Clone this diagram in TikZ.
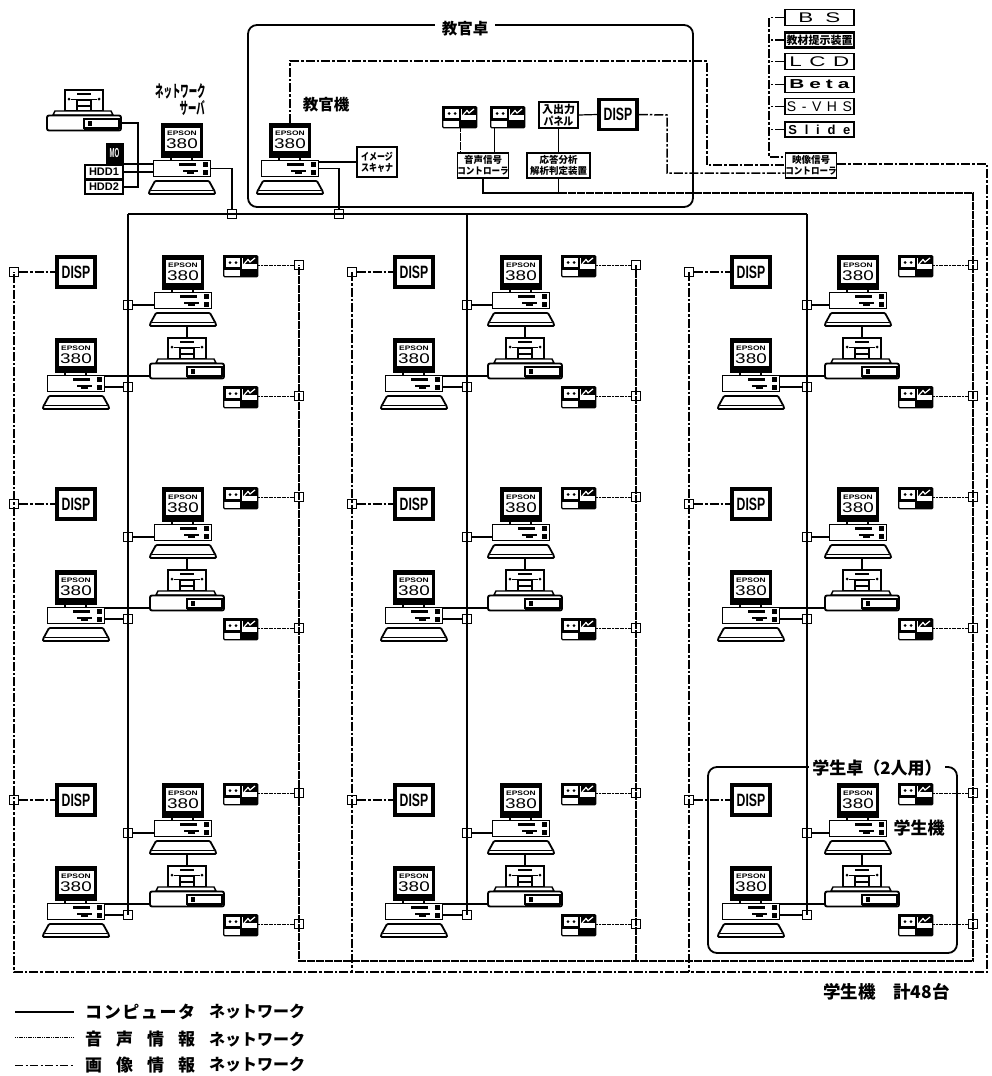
\documentclass[tikz,border=0pt]{standalone}
\usepackage{fontspec}
\usepackage{graphicx}
\setmainfont{Liberation Sans}
\newfontfamily\jpf{Noto Sans CJK JP}
\newcommand\fsz[2]{\fontsize{#1}{#2}\selectfont}
\newcommand\wide[2]{\makebox[#1][s]{#2}}
\newcommand\wl[1]{\scalebox{1.6}[1]{#1}}
\tikzset{
  compnet/.style={line width=1.6pt,draw=black},
  audnet/.style={line width=1.5pt,draw=black,dash pattern=on 4pt off 0.5pt},
  imgnet/.style={line width=1.5pt,draw=black,dash pattern=on 9pt off 2pt on 2.5pt off 2pt},
  thinaud/.style={line width=0.9pt,draw=black,dash pattern=on 1.2pt off 0.6pt},
  thinimg/.style={line width=0.9pt,draw=black,dash pattern=on 8pt off 2.5pt on 2pt off 2.5pt},
  jbox/.style={draw=black,line width=1.4pt,minimum size=9pt,inner sep=0pt},
  dispbox/.style={draw=black,line width=3.5pt,fill=white,minimum width=38pt,minimum height=30pt,inner sep=0pt,
    font=\fsz{17}{17}\bfseries},
  labbox/.style={draw=black,line width=1.5pt,fill=white,inner sep=0pt,align=center},
  selbox/.style={draw=black,line width=1.8pt,fill=white,inner sep=0pt,minimum width=69pt,anchor=west},
  hddbox/.style={draw=black,line width=1.5pt,fill=white,inner sep=0pt,minimum width=38pt,minimum height=14pt,
    font=\fsz{11}{11}\bfseries},
  frameline/.style={line width=1.8pt,draw=black,rounded corners=9pt},
  jptext/.style={inner sep=0pt,align=center,font=\jpf},
  pics/pcunit/.style={code={
    \fill[black] (0,0) rectangle (42,35);
    \fill[white] (3.5,5) rectangle (38.5,28);
    \node[inner sep=0pt,font=\fsz{6.5}{6.5}\bfseries] at (21,10.5) {\scalebox{1.3}[1]{EPSON}};
    \node[inner sep=0pt,font=\fsz{14}{14}] at (21,21) {\scalebox{1.35}[1]{380}};
    \draw[line width=1.3pt] (10,35) -- (10,38) (31,35) -- (31,38);
    \node[draw=black,line width=1.8pt,fill=white,minimum width=57pt,minimum height=16pt,inner sep=0pt] (-base) at (21,45.5) {};
    \fill[black] (18,40) rectangle (35,42.5);
    \fill[black] (22,46.5) rectangle (37,48.5);
    \fill[black] (26,48.5) rectangle (33,51);
    \fill[black] (42,39) rectangle (47,44);
    \fill[black] (42,47) rectangle (47,51.5);
    \draw[line width=1.8pt,fill=white,rounded corners=1pt] (-6,58) -- (48,58) -- (54,69) -- (54,71) -- (-12,71) -- (-12,69) -- cycle;
    \draw[line width=1.2pt] (-10,67.5) -- (52,67.5);
    \coordinate (-kb) at (25,71);
    \coordinate (-top) at (21,0);
  }},
  pics/printerunit/.style={code={
    \node[draw=black,line width=1.5pt,fill=white,minimum width=38pt,minimum height=21pt,inner sep=0pt] (-paper) at (37,-14.5) {};
    \fill[black] (30,-22.5) rectangle (44,-20.5);
    \draw[line width=1.3pt] (24,-15.5) -- (50,-15.5);
    \fill[black] (22,-16) circle (1.5pt) (52,-16) circle (1.5pt);
    \draw[line width=1.3pt] (30,-15) rectangle (44,-4);
    \fill[black] (30,-10.5) rectangle (44,-8.5);
    \draw[line width=1.4pt,fill=white] (8,-4) -- (64,-4) -- (66,0) -- (6,0) -- cycle;
    \node[draw=black,line width=1.9pt,fill=white,rounded corners=2pt,minimum width=74pt,minimum height=15pt,inner sep=0pt] (-body) at (37,8) {};
    \draw[line width=1.2pt] (37,4) rectangle (72,13);
    \fill[black] (41,6) rectangle (45,11);
    \fill[black] (37,12) rectangle (72,15);
    \coordinate (-port) at (0,13);
  }},
  pics/tapeunit/.style={code={
    \node[draw=black,line width=1.4pt,fill=white,rounded corners=1pt,minimum width=34pt,minimum height=21pt,inner sep=0pt,anchor=north west] (-box) at (0,0) {};
    \fill[black] (0,0) rectangle (34,2.5);
    \fill[black] (20,0) rectangle (34,9);
    \fill[black] (17,14) rectangle (34,21);
    \draw[white,line width=1.2pt] (21,9) -- (25,4.5) -- (27,7) -- (32,3);
    \draw[line width=1.3pt] (2,2) rectangle (18,13);
    \fill[black] (7,7.5) circle (1.5pt) (13,7.5) circle (1.5pt);
    \draw[black,line width=1pt] (0,14) -- (17,14);
  }},
}
\begin{document}
\begin{tikzpicture}[x=1pt,y=-1pt]
\useasboundingbox (0,0) rectangle (992,1076);

% ---------- frames
\draw[frameline] (248,25) rectangle (693,207);
\node[jptext,fill=white,inner xsep=7pt,inner ysep=3pt,font=\jpf\fsz{15.5}{15.5}\bfseries] (tdesk) at (465,29) {教官卓};
\draw[frameline] (708,767) rectangle (957,953);
\node[jptext,fill=white,inner xsep=3pt,inner ysep=3pt,font=\jpf\fsz{17}{17}\bfseries] (sdesk) at (877,768) {学生卓（2人用）};
\node[jptext,font=\jpf\fsz{17}{17}\bfseries] (smach) at (919,828) {学生機};

% ---------- server group
\pic (srvp) at (161,123) {pcunit};
\pic (srvpr) at (47,115) {printerunit};
\node[draw=black,line width=1pt,fill=black,minimum width=17pt,minimum height=20pt,inner sep=0pt,text=white,font=\fsz{10}{10}\bfseries] (mo) at (114.5,153) {\scalebox{0.6}[1.3]{MO}};
\node[hddbox] (hdda) at (104,172) {HDD1};
\node[hddbox] (hddb) at (104,187) {HDD2};
\node[jptext,anchor=west,font=\jpf\fsz{15}{15}\bfseries] (srvt1) at (155,91) {\scalebox{0.56}[1.1]{ネットワーク}};
\node[jptext,anchor=east,font=\jpf\fsz{15}{15}\bfseries] (srvt2) at (205,108) {\scalebox{0.56}[1.1]{サーバ}};
\coordinate (srvturn) at (138,123);

% ---------- teacher group
\pic (tchp) at (269,123) {pcunit};
\node[jptext,font=\jpf\fsz{15.5}{15.5}\bfseries] (tcht) at (326,105) {教官機};
\node[labbox,minimum width=40pt,minimum height=30pt,font=\jpf\fsz{10}{11}\bfseries] (scan) at (377,162) {\scalebox{0.8}[1]{イメージ}\\\scalebox{0.8}[1]{スキャナ}};
\pic (tta) at (442,106) {tapeunit};
\pic (ttb) at (490,106) {tapeunit};
\node[labbox,minimum width=39pt,minimum height=26pt,font=\jpf\fsz{11}{12}\bfseries] (panel) at (558.5,115) {入出力\\\scalebox{0.9}[1]{パネル}};
\node[dispbox] (tdisp) at (618,114.5) {\scalebox{0.72}[1.05]{DISP}};
\node[labbox,minimum width=42pt,minimum height=25pt,font=\jpf\fsz{9.5}{11}\bfseries] (actl) at (483,165.5) {音声信号\\\scalebox{0.9}[1]{コントローラ}};
\node[labbox,minimum width=63pt,minimum height=25pt,font=\jpf\fsz{9.5}{11}\bfseries] (resp) at (558.5,165.5) {応答分析\\解析判定装置};
\node[labbox,minimum width=42pt,minimum height=25pt,font=\jpf\fsz{9.5}{11}\bfseries] (vctl) at (811,165.5) {映像信号\\\scalebox{0.9}[1]{コントローラ}};

% ---------- source selector boxes
\node[selbox,minimum height=16pt,font=\fsz{14}{14}] (sbs) at (784,17.5) {\hfil\wide{42pt}{\wl{B}\hfil\wl{S}}\hfil};
\node[selbox,minimum height=15pt,line width=2.2pt,font=\jpf\fsz{11}{11}\bfseries] (sob) at (784,40) {教材提示装置};
\node[selbox,minimum height=16pt,font=\fsz{14}{14}] (slcd) at (784,61.5) {\hfil\wide{60pt}{\wl{L}\hfil\wl{C}\hfil\wl{D}}\hfil};
\node[selbox,minimum height=16pt,font=\fsz{13}{13}\bfseries] (sbeta) at (784,84.5) {\hfil\wide{60pt}{\wl{B}\hfil\wl{e}\hfil\wl{t}\hfil\wl{a}}\hfil};
\node[selbox,minimum height=16pt,font=\fsz{14}{14}] (svhs) at (784,106.5) {\hfil\wide{65pt}{S\hfil -\hfil V\hfil H\hfil S}\hfil};
\node[selbox,minimum height=15pt,font=\fsz{13}{13}\bfseries] (slide) at (784,129.5) {\hfil\wide{62pt}{S\hfil l\hfil i\hfil d\hfil e}\hfil};
\coordinate (sbtop) at (769,17.5);
\coordinate (sbbot) at (769,157);

% ---------- top bus junctions
\node[jbox] (jsrv) at (232,214) {};
\node[jbox] (jtch) at (339,214) {};
\coordinate (cb1) at (128,214);
\coordinate (cb2) at (467,214);
\coordinate (cb3) at (807,214);

% ---------- student units
\foreach \ci/\dx/\cx/\ax in {1/0/128/299, 2/338/467/636, 3/675/807/973} {
  \foreach \ri/\dy in {1/0, 2/232, 3/528} {
    \node[dispbox] (d\ci\ri) at (76+\dx,272+\dy) {\scalebox{0.72}[1.05]{DISP}};
    \node[jbox] (ji\ci\ri) at (14+\dx,272+\dy) {};
    \pic (pu\ci\ri) at (162+\dx,255+\dy) {pcunit};
    \pic (pl\ci\ri) at (55+\dx,338+\dy) {pcunit};
    \pic (pr\ci\ri) at (150+\dx,363+\dy) {printerunit};
    \pic (tu\ci\ri) at (223+\dx,255+\dy) {tapeunit};
    \pic (tl\ci\ri) at (223+\dx,386+\dy) {tapeunit};
    \node[jbox] (jcu\ci\ri) at (\cx,305+\dy) {};
    \node[jbox] (jcl\ci\ri) at (\cx,387+\dy) {};
    \node[jbox] (jau\ci\ri) at (\ax,265+\dy) {};
    \node[jbox] (jal\ci\ri) at (\ax,396+\dy) {};
    \draw[imgnet] (ji\ci\ri.east) -- (d\ci\ri.west);
    \draw[compnet] (jcu\ci\ri.east) -- (jcu\ci\ri.center -| pu\ci\ri-base.west);
    \draw[compnet] (pl\ci\ri-base.east |- jcl\ci\ri.center) -- (jcl\ci\ri.west);
    \draw[compnet] (pl\ci\ri-base.east |- pr\ci\ri-port) -- (pr\ci\ri-port);
    \draw[compnet] (pu\ci\ri-kb) -- (pr\ci\ri-paper.north -| pu\ci\ri-kb);
    \draw[audnet,line width=1pt,dash pattern=on 2pt off 0.6pt] (tu\ci\ri-box.east |- jau\ci\ri.center) -- (jau\ci\ri.west);
    \draw[audnet,line width=1pt,dash pattern=on 2pt off 0.6pt] (tl\ci\ri-box.east |- jal\ci\ri.center) -- (jal\ci\ri.west);
  }
}

% ---------- computer network
\draw[compnet] (cb1) -- (cb3);
\draw[compnet] (cb1) -- (jcl13.center);
\draw[compnet] (cb2) -- (jcl23.center);
\draw[compnet] (cb3) -- (jcl33.center);
\draw[compnet] (srvp-base.east) -| (jsrv.north);
\draw[compnet] (tchp-base.east) -| (jtch.north);
\draw[compnet] (scan.west) -- (scan.west -| tchp-base.east);
\draw[compnet] (srvpr-body.east |- srvturn) -- (srvturn) |- (hddb.east);
\draw[compnet,line width=2pt] (mo.south east) -- (mo.south east -| srvp-base.west);
\draw[compnet] (hdda.east) -- (hdda.east -| srvp-base.west);

% ---------- teacher desk links
\draw[compnet,line width=1.2pt] (panel.east) -- (tdisp.west);
\draw[compnet] (panel.south) -- (resp.north);
\draw[audnet] (tta-box.south -| actl.north west) ++(4,0) -- ++(0,26);
\draw[compnet,line width=1.2pt] (ttb-box.south) ++(-13,0) -- ++(0,26);

% ---------- audio network
\coordinate (abl) at (actl.south |- 0,193);
\coordinate (abr) at (jau31.center |- 0,193);
\coordinate (abb) at (jau31.center |- 0,961);
\coordinate (abm) at (jau11.center |- 0,961);
\draw[compnet] (actl.south) -- (abl) -- (resp.south |- abl);
\draw[compnet] (resp.south) -- (resp.south |- abl);
\draw[audnet] (resp.south |- abl) -- (abr) -- (abb) -- (abm) -- (jau11.center);
\draw[audnet] (jau21.center) -- (jau21.center |- abb);

% ---------- image network
\coordinate (tv1) at (tchp-top |- 0,61);
\coordinate (tv2) at (707,61);
\coordinate (tv3) at (707,165);
\coordinate (dv1) at (667,115);
\coordinate (dv2) at (667,173);
\coordinate (ir1) at (987,164);
\coordinate (ir2) at (987,972);
\coordinate (ib1) at (ji11.center |- ir2);
\draw[imgnet] (tchp-top) -- (tv1) -- (tv2) -- (tv3) -- (tv3 -| vctl.west);
\draw[imgnet] (tdisp.east) -- (dv1) -- (dv2) -- (dv2 -| vctl.west);
\draw[imgnet] (sbtop -| sbs.west) -- (sbtop) -- (sbbot) -- (sbbot -| vctl.west);
\foreach \s in {sob,slcd,sbeta,svhs,slide} {
  \draw[imgnet] (\s.west) -- (\s.west -| sbtop);
}
\draw[imgnet] (vctl.east |- ir1) -- (ir1) -- (ir2) -- (ib1) -- (ji11.center);
\draw[imgnet] (ji21.center) -- (ji21.center |- ir2);
\draw[imgnet] (ji31.center) -- (ji31.center |- ir2);

% ---------- totals and legend
\node[jptext,anchor=west,font=\jpf\fsz{17.5}{17.5}\bfseries] (total) at (823,992) {学生機　計48台};
\coordinate (la) at (15,1012); \coordinate (lb) at (74,1012);
\coordinate (lc) at (15,1037); \coordinate (ld) at (74,1037);
\coordinate (le) at (15,1065); \coordinate (lf) at (74,1065);
\draw[compnet] (la) -- (lb);
\draw[thinaud] (lc) -- (ld);
\draw[thinimg] (le) -- (lf);
\node[jptext,anchor=west,font=\jpf\fsz{17}{17}\bfseries] (lt1) at (85,1012) {\wide{110pt}{コ\hfil ン\hfil ピ\hfil ュ\hfil ー\hfil タ}};
\node[jptext,anchor=west,font=\jpf\fsz{16}{16}\bfseries] (lt2) at (209,1012) {ネットワーク};
\node[jptext,anchor=west,font=\jpf\fsz{17}{17}\bfseries] (lt3) at (85,1039) {\wide{110pt}{音\hfil 声\hfil 情\hfil 報}};
\node[jptext,anchor=west,font=\jpf\fsz{16}{16}\bfseries] (lt4) at (209,1040) {ネットワーク};
\node[jptext,anchor=west,font=\jpf\fsz{17}{17}\bfseries] (lt5) at (85,1065) {\wide{110pt}{画\hfil 像\hfil 情\hfil 報}};
\node[jptext,anchor=west,font=\jpf\fsz{16}{16}\bfseries] (lt6) at (209,1065) {ネットワーク};
\end{tikzpicture}
\end{document}
